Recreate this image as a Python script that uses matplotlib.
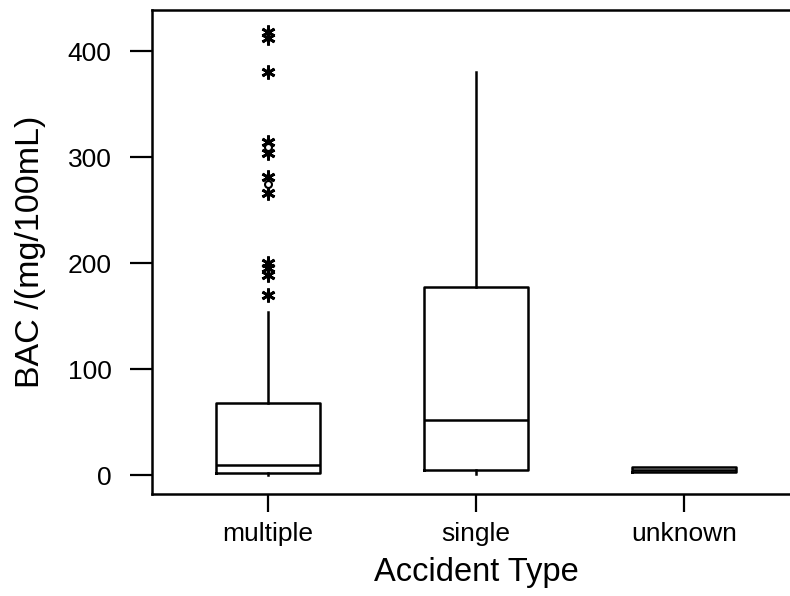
import matplotlib
matplotlib.use("Agg")
import matplotlib.pyplot as plt

plt.rcParams['font.family'] = ['Liberation Sans', 'DejaVu Sans']

categories = ["multiple", "single", "unknown"]
q1 = [2, 5, 2.5]
median = [9, 52, 5]
q3 = [68, 177, 7.5]
whislo = [0, 1, 2.5]
whishi = [154, 380, 7.5]
outliers_multiple = [418, 412, 380, 314, 304, 281, 266, 200, 195, 189, 170]
circles_multiple = [309, 275]
yticks = [0, 100, 200, 300, 400]

W, H = 790, 596
fig = plt.figure(figsize=(W / 100, H / 100), dpi=100)
ax = fig.add_axes([152 / W, (596 - 494) / H, (800 - 152) / W, (494 - 10) / H])

stats = []
for i, c in enumerate(categories):
    stats.append(dict(label=c, q1=q1[i], med=median[i], q3=q3[i],
                      whislo=whislo[i], whishi=whishi[i],
                      fliers=outliers_multiple if i == 0 else []))
positions = [1, 2, 3]
ax.bxp(stats, positions=positions, widths=0.5, showcaps=False,
       boxprops=dict(color='black', linewidth=1.8),
       medianprops=dict(color='black', linewidth=1.8),
       whiskerprops=dict(color='black', linewidth=1.8),
       flierprops=dict(marker=(6, 2, 0), markersize=10, markeredgewidth=2.0,
                       markeredgecolor='black', linestyle='none'))
ax.plot([positions[0]] * len(circles_multiple), circles_multiple, linestyle='none',
        marker='o', markersize=5, markerfacecolor='white', markeredgecolor='black',
        markeredgewidth=1.5)

ax.set_xlim(1 - 0.558, 3 + 0.558)
ax.set_ylim(-17.9, 438.7)
ax.set_yticks(yticks)
ax.set_xticks(positions)
ax.set_xticklabels(categories)

for s in ax.spines.values():
    s.set_linewidth(1.8)
    s.set_color('black')

ax.tick_params(axis='y', direction='out', length=16, width=1.6, labelsize=19, pad=13)
ax.tick_params(axis='x', direction='out', length=13, width=1.6, labelsize=19, pad=7)
ax.set_xlabel("Accident Type", fontsize=23.5, labelpad=8)
ax.set_ylabel("BAC /(mg/100mL)", fontsize=24.5, labelpad=16)

fig.savefig("out.png", dpi=100)
